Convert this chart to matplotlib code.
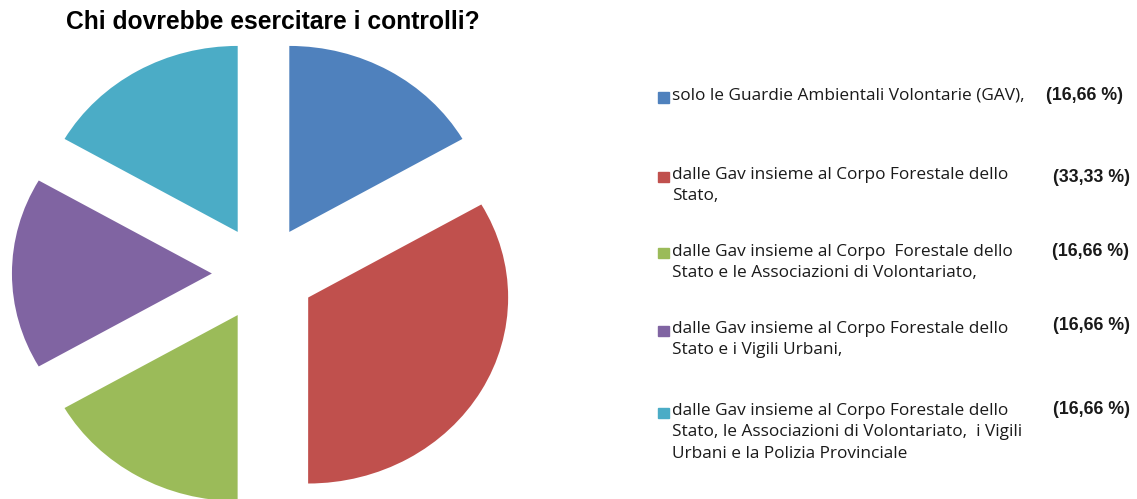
import matplotlib
matplotlib.use("Agg")
import matplotlib.pyplot as plt
from matplotlib.patches import Rectangle

W, H = 1137, 499

categories = [
    "solo le Guardie Ambientali Volontarie (GAV),",
    "dalle Gav insieme al Corpo Forestale dello\nStato,",
    "dalle Gav insieme al Corpo  Forestale dello\nStato e le Associazioni di Volontariato,",
    "dalle Gav insieme al Corpo Forestale dello\nStato e i Vigili Urbani,",
    "dalle Gav insieme al Corpo Forestale dello\nStato, le Associazioni di Volontariato,  i Vigili\nUrbani e la Polizia Provinciale",
]
values = [16.66, 33.33, 16.66, 16.66, 16.66]
pct_labels = ["(16,66 %)", "(33,33 %)", "(16,66 %)", "(16,66 %)", "(16,66 %)"]
colors = ["#4F81BD", "#C0504D", "#9BBB59", "#8064A2", "#4BACC6"]

fig = plt.figure(figsize=(W / 100, H / 100), dpi=100)
ax = fig.add_axes([0, 0, 1, 1])
sx = 1.075  # horizontal stretch of the pie (ellipse)
radius = 186
cx, cy = 263.5 / sx, H - 273.5
ax.pie(values, colors=colors, startangle=90, counterclock=False,
       radius=radius, center=(cx, cy), explode=[48] * len(values),
       frame=True, wedgeprops=dict(linewidth=0))
ax.set_xlim(0, W / sx)
ax.set_ylim(0, H)
ax.set_aspect("auto")
ax.axis("off")

def px(x, y):
    return x / W, 1 - y / H

fig.text(*px(66, 22), "Chi dovrebbe esercitare i controlli?", fontsize=17.7,
         fontweight="bold", family="Liberation Sans", ha="left", va="center",
         color="black")

first_line_y = [96, 175, 251.5, 329, 411]
pct_y = [95, 177, 251, 325, 410]
pct_right = [1123, 1130, 1129, 1130, 1130]
line_h = 21.5
for i, (lab, pct, col) in enumerate(zip(categories, pct_labels, colors)):
    y0 = first_line_y[i]
    fig.patches.append(Rectangle(px(658, y0 + 6.5), 11 / W, 10 / H, color=col,
                                 transform=fig.transFigure, figure=fig))
    for j, line in enumerate(lab.split("\n")):
        fig.text(*px(672.5, y0 + j * line_h), line, fontsize=12.4, family="Open Sans",
                 ha="left", va="center", color="#1a1a1a")
    fig.text(*px(pct_right[i], pct_y[i]), pct, fontsize=12.8, fontweight="bold",
             family="Liberation Sans", ha="right", va="center", color="#1a1a1a")

fig.savefig("out.png", dpi=100)
